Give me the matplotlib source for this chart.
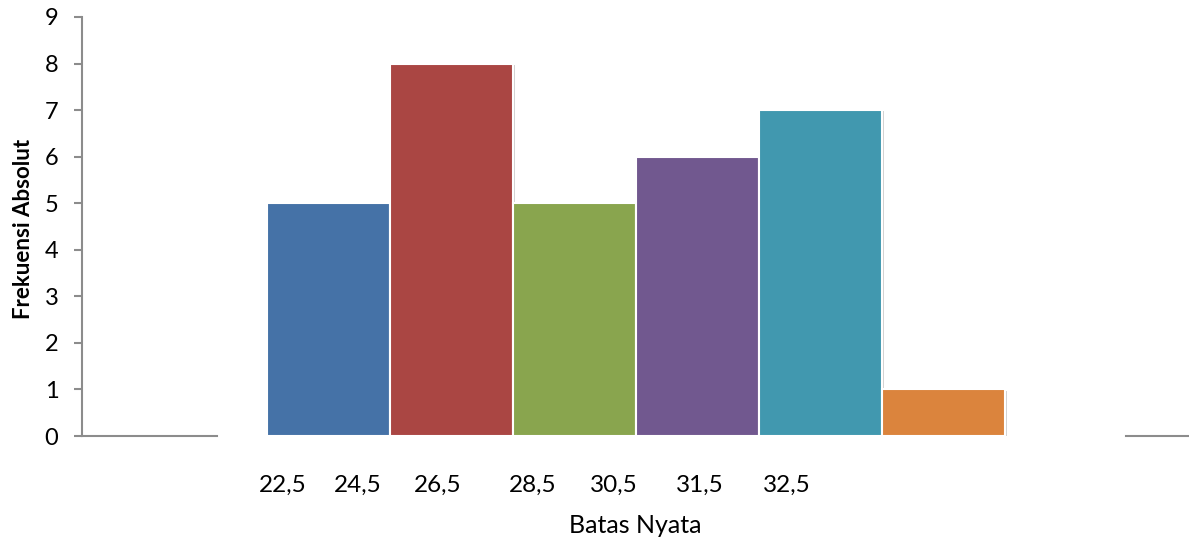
import matplotlib.pyplot as plt
import matplotlib.patheffects as pe
import numpy as np

plt.rcParams['font.family'] = ['Lato', 'DejaVu Sans']

# frequency per class
freq = [5, 8, 5, 6, 7, 1]
colors = ['#4572A7', '#AA4643', '#89A54E', '#71588F', '#4198AF', '#DB843D']

# class boundary labels and where they sit under the bars
boundary_labels = ['22,5', '24,5', '26,5', '28,5', '30,5', '31,5', '32,5']
boundary_pos = [1.63, 2.24, 2.89, 3.66, 4.32, 5.02, 5.73]

fig = plt.figure(figsize=(11.89, 5.39), dpi=100)
ax = fig.add_axes([0.069, 0.191, 0.931, 0.7775])

x = np.arange(len(freq)) + 2
bars = ax.bar(x, freq, width=1.0, color=colors, edgecolor='white', linewidth=1.5, zorder=3)
for b in bars:
    b.set_path_effects([pe.SimplePatchShadow(offset=(1.5, -1), shadow_rgbFace='#808080', alpha=0.35),
                        pe.Normal()])

ax.set_xlim(0, 9)
ax.set_ylim(0, 9)
ax.set_yticks(range(0, 10))
ax.set_xticks(boundary_pos)
ax.set_xticklabels(boundary_labels)

for s in ['top', 'right', 'bottom']:
    ax.spines[s].set_visible(False)
ax.spines['left'].set_color('#8c8c8c')
ax.spines['left'].set_linewidth(1.5)

# horizontal axis only shows outside the bar area
ax.plot([0, 1.1], [0, 0], color='#8c8c8c', lw=1.5, clip_on=False, zorder=2)
ax.plot([8.49, 9], [0, 0], color='#8c8c8c', lw=1.5, clip_on=False, zorder=2)

ax.tick_params(axis='y', length=6, width=1.5, color='#8c8c8c', labelsize=17, pad=11)
ax.tick_params(axis='x', length=0, labelsize=17.5, pad=28)

ax.set_xlabel('Batas Nyata', fontsize=18, labelpad=13)
ax.set_ylabel('Frekuensi Absolut', fontsize=16, fontweight='bold')
ax.yaxis.set_label_coords(-0.043, 0.495)

fig.savefig('out.png', dpi=100)
